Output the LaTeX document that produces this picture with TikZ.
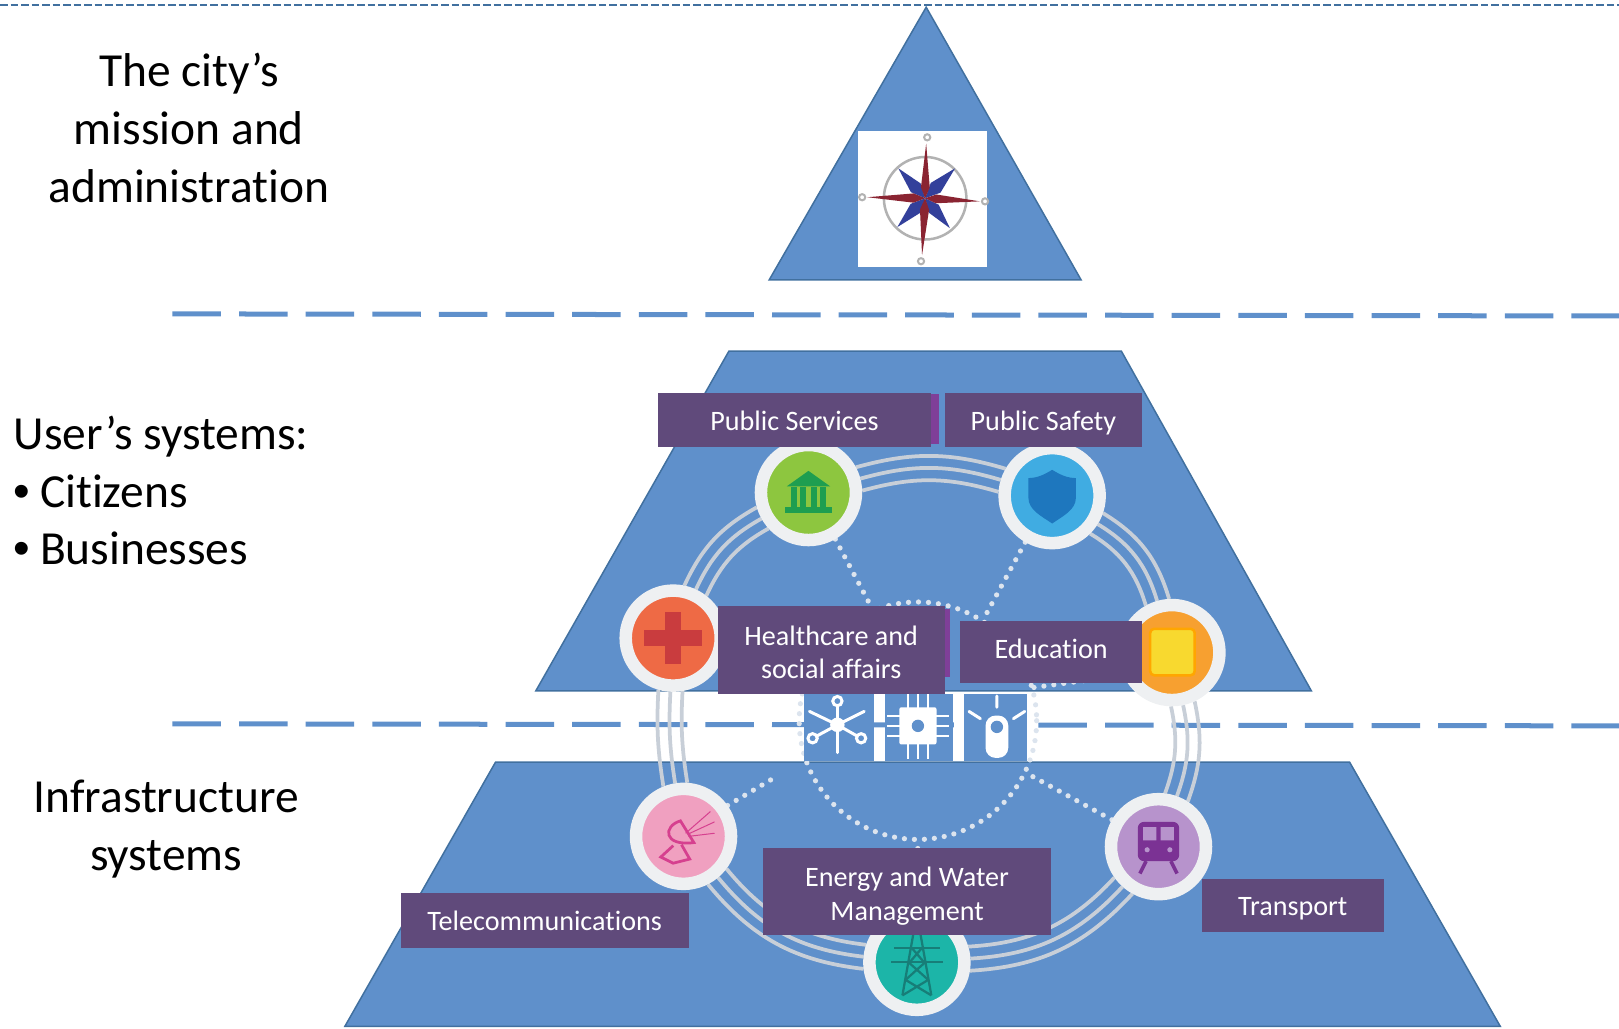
\documentclass[tikz,border=0pt]{standalone}
\usepackage{fontspec}
\setmainfont[Ligatures=NoCommon]{Carlito}
\newfontfamily\bulletfont{Liberation Sans}
\usetikzlibrary{calc,backgrounds}
\definecolor{pyrblue}{HTML}{5F90CB}
\definecolor{pyredge}{HTML}{41709F}
\definecolor{labelpurple}{HTML}{604A7B}
\definecolor{sliverpurple}{HTML}{7F3F98}
\definecolor{hubrim}{HTML}{EEF0F2}
\definecolor{ringgrey}{HTML}{C8CFD8}
\definecolor{dotpale}{HTML}{DCE4EE}
\definecolor{servicesfill}{HTML}{8DC63F}
\definecolor{servicesicon}{HTML}{1E9E50}
\definecolor{safetyfill}{HTML}{40ACE2}
\definecolor{safetyicon}{HTML}{1E77BE}
\definecolor{healthfill}{HTML}{EE6A45}
\definecolor{healthicon}{HTML}{C93C3E}
\definecolor{educationfill}{HTML}{F7A030}
\definecolor{educationicon}{HTML}{F8D92F}
\definecolor{telecomfill}{HTML}{F0A0C0}
\definecolor{telecomicon}{HTML}{D6408F}
\definecolor{transportfill}{HTML}{B793CC}
\definecolor{transporticon}{HTML}{7B3294}
\definecolor{energyfill}{HTML}{1CB5A8}
\definecolor{energyicon}{HTML}{177E78}
\definecolor{compassred}{HTML}{8A2432}
\definecolor{compassblue}{HTML}{33409B}
\def\unit{0.02065cm}
\def\labelstrut{\rule[-4pt]{0pt}{19.4pt}}
\def\twolinestrut{\rule{0pt}{17.7pt}}
\tikzstyle{pyramid}=[fill=pyrblue,draw=pyredge,line width=0.03cm]
\tikzstyle{hub}=[circle,draw=hubrim,line width=0.25cm,minimum size=1.9cm,inner sep=0pt]
\tikzstyle{ringline}=[draw=ringgrey,line width=0.075cm]
\tikzstyle{dotline}=[draw=dotpale,line width=0.105cm,line cap=round,dash pattern=on 0pt off 0.2cm]
\tikzstyle{divider}=[draw=pyrblue,line width=0.1cm,dash pattern=on 0.97cm off 0.362cm]
\tikzstyle{label}=[fill=labelpurple,text=white,align=center,inner sep=0pt,font=\fontsize{16}{19}\selectfont,execute at begin node=\labelstrut,execute at end node=\labelstrut]
\tikzstyle{side}=[inner sep=0pt,font=\fontsize{27}{32.9}\selectfont]
\tikzstyle{stripbox}=[fill=pyrblue]
\tikzstyle{glyph}=[draw=white,line width=0.06cm,line cap=round]
\begin{document}
\begin{tikzpicture}[x=\unit,y=-\unit]
     \useasboundingbox (0,0) rectangle (1568,996);

     \foreach \pos/\name/\col in {{(783,477)/services/servicesfill}, {(1019,480)/safety/safetyfill},
       {(652,618)/health/healthfill}, {(1135,632)/education/educationfill},
       {(662,810)/telecom/telecomfill}, {(1122,820)/transport/transportfill},
       {(888,932)/energy/energyfill}}
     \node[hub,fill=\col] (\name) at \pos {};

     \coordinate (topl) at (0,5);
     \coordinate (topr) at (1568,5);
     \coordinate (upl) at (167,304);
     \coordinate (upr) at (1568,306);
     \coordinate (lowl) at (167,701);
     \coordinate (lowr) at (1568,703);
     \coordinate (core) at (889,698);
     \coordinate (corebot) at (889,813);
     \coordinate (coretl) at (845,590);
     \coordinate (coretr) at (955,595);
     \coordinate (corebl) at (752,752);
     \coordinate (corebr) at (1000,752);
     \coordinate (corer) at (1000,666);

     \begin{scope}[on background layer]
     \draw[pyramid] (897,7) -- (1047,271) -- (745,271) -- cycle;
     \draw[pyramid] (706,340) -- (1086,340) -- (1270,669) -- (519,669) -- cycle;
     \draw[pyramid] (480,738) -- (1307,738) -- (1453,994) -- (334,994) -- cycle;
     \path[draw=pyredge,line width=0.035cm,dash pattern=on 0.15cm off 0.06cm] (topl) -- (topr);
     \path[divider] (upl) -- (upr);
     \path[divider] (lowl) -- (lowr);

     \path[dotline] (core) circle (115);
     \foreach \source/ \dest in {services.-60/coretl, safety.-120/coretr, telecom.35/corebl,
       transport.150/corebr, education.205/corer, energy.north/corebot}
     \path[dotline] (\source) -- (\dest);

     \foreach \source/ \dest/ \dir/ \bendang in {services/safety/-1/16, safety/education/-53/21,
       education/transport/-94/16, transport/energy/-154/22, energy/telecom/152/22,
       telecom/health/93/6, health/services/47/18}
     \foreach \off in {-13,0,13}{
       \pgfmathtruncatemacro{\sa}{\dir+\bendang+\off}
       \pgfmathtruncatemacro{\sb}{\dir+180-\bendang-\off}
       \path[ringline] (\source.\sa) to[bend left=\bendang] (\dest.\sb);
     }
     \end{scope}

     \fill[white] (831,127) rectangle (956,259);
     \node[circle,draw=gray!60,line width=0.05cm,minimum size=1.65cm,inner sep=0pt] (compass) at (896,192) {};
     \foreach \tx/\ty in {870/163,925/163,869/220,920/221}
     \fill[compassblue] (compass.center) -- ($(compass.center)!0.35!(\tx,\ty)!0.25!90:(\tx,\ty)$) -- (\tx,\ty) -- ($(compass.center)!0.35!(\tx,\ty)!0.25!-90:(\tx,\ty)$) -- cycle;
     \foreach \tx/\ty in {897/139,893/247,840/191,949/195}
     \fill[compassred] (compass.center) -- ($(compass.center)!0.2!(\tx,\ty)!0.1!90:(\tx,\ty)$) -- (\tx,\ty) -- ($(compass.center)!0.2!(\tx,\ty)!0.1!-90:(\tx,\ty)$) -- cycle;
     \foreach \tip in {(898,133),(892,253),(835,191),(954,195)}
     \draw[gray!60,line width=0.04cm] \tip circle (3);

     \begin{scope}[shift={(783,477)},servicesicon]
       \fill (-21,-6) -- (0,-21) -- (21,-6) -- cycle;
       \foreach \xx in {-17,-8,2,11}
       \fill (\xx,-5) rectangle (\xx+6,14);
       \fill (-23,14) rectangle (23,20);
     \end{scope}
     \fill[safetyicon] (996,463) .. controls (1004,463) and (1011,460) .. (1019,455) .. controls (1027,460) and (1034,463) .. (1042,463) -- (1042,482) .. controls (1042,494) and (1029,500) .. (1019,507) .. controls (1009,500) and (996,494) .. (996,482) -- cycle;
     \begin{scope}[shift={(652,618)},healthicon]
       \fill (-28,-8) rectangle (28,8);
       \fill (-8,-25) rectangle (8,25);
     \end{scope}
     \draw[fill=educationicon,draw=orange!70!yellow,line width=0.05cm,rounded corners=0.08cm] (1114,609) rectangle (1157,654);
     \begin{scope}[shift={(662,810)},telecomicon,line width=0.055cm]
       \draw (-3,-15) .. controls (-20,-10) and (-20,10) .. (10,6) -- cycle;
       \draw (-10,9) -- (-22,20) -- (-10,26) -- (6,22) -- (-2,8);
       \draw[line width=0.02cm] (2,-3) -- (26,-24) (4,-2) -- (30,-14) (5,0) -- (30,-3);
     \end{scope}
     \begin{scope}[shift={(1122,820)},transporticon]
       \fill[rounded corners=0.12cm] (-20,-24) rectangle (20,14);
       \fill[transportfill] (-15,-19) rectangle (-2,-6) (2,-19) rectangle (15,-6);
       \fill[transportfill] (-11,3) circle (2.5) (11,3) circle (2.5);
       \draw[line width=0.07cm] (-12,14) -- (-18,26) (12,14) -- (18,26);
     \end{scope}
     \begin{scope}[shift={(888,932)},energyicon,line width=0.045cm]
       \draw (-3,-30) -- (-14,32) (3,-30) -- (14,32);
       \draw (-22,-14) -- (22,-14) (-25,0) -- (25,0);
       \draw (-5,-14) -- (7,0) (5,-14) -- (-7,0) (-8,0) -- (11,17) (8,0) -- (-11,17) (-11,17) -- (14,32) (11,17) -- (-14,32);
     \end{scope}

     \foreach \xa/\xb in {779/846, 857/923, 934/995}
     \path[stripbox] (\xa,672) rectangle (\xb,737);
     \begin{scope}[shift={(811,702)}]
       \foreach \xx/\yy in {0/-23,26/-13,23/13,0/27,-24/13,-27/-13}
       \draw[glyph] (0,0) -- (\xx,\yy);
       \fill[white] (0,0) circle (7);
       \foreach \xx/\yy in {0/-23,23/13,-24/13}
       \draw[glyph,fill=pyrblue] (\xx,\yy) circle (4.5);
     \end{scope}
     \begin{scope}[shift={(889,703)}]
       \foreach \yy in {-10,0,10}{
         \draw[white,line width=0.04cm] (-30,\yy) -- (30,\yy);
         \draw[white,line width=0.04cm] (\yy,-31) -- (\yy,32);
       }
       \fill[white,rounded corners=0.04cm] (-18,-18) rectangle (18,18);
       \fill[pyrblue] (0,0) circle (6);
     \end{scope}
     \begin{scope}[shift={(965.5,703)}]
       \fill[white,rounded corners=0.2cm] (-11,-10) rectangle (11,31);
       \fill[pyrblue] (0,1) circle (6);
       \draw[glyph] (0,-29) -- (0,-18) (-27,-14) -- (-16,-7) (27,-14) -- (16,-7);
     \end{scope}

     \fill[sliverpurple] (895,382) rectangle (909,430);
     \fill[sliverpurple] (905,590) rectangle (920,656);
     \foreach \pos/\name/\w/\h/\txt in {{(769.5,407)/lservices/265/52/Public Services},
       {(1010.5,407)/lsafety/191/52/Public Safety},
       {(805,629.5)/lhealth/220/85/\twolinestrut Healthcare and\\social affairs},
       {(1018,631)/leducation/176/60/\raisebox{1.7pt}{Education}},
       {(527.5,891.5)/ltelecom/279/53/Telecommunications},
       {(878.5,863.5)/lenergy/279/85/\twolinestrut Energy and Water\\Management},
       {(1252,877)/ltransport/176/52/Transport}}
     \node[label,minimum width=\w*\unit,minimum height=\h*\unit] (\name) at \pos {\txt};

     \node[side,align=center] (mission) at (183,124) {The city’s\\mission and\\administration};
     \node[side,align=left,anchor=west] (users) at (13,475) {User’s systems:\\{\bulletfont •}\hspace{5.5pt}Citizens\\{\bulletfont •}\hspace{5.5pt}Businesses};
     \node[side,align=center] (infra) at (161,803) {Infrastructure\\systems};
   \end{tikzpicture}
\end{document}
